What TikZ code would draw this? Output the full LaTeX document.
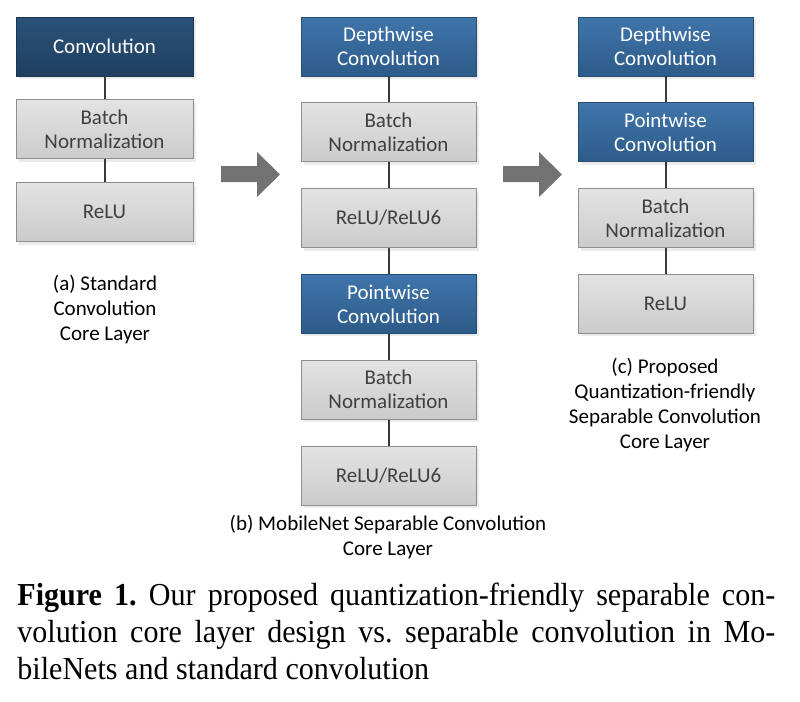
\documentclass[tikz,border=0pt]{standalone}
\usepackage{fontspec}
\setmainfont{Carlito}
\newfontfamily\capfont[FakeStretch=0.94]{Liberation Serif}
\usetikzlibrary{positioning,shadows}
\definecolor{navyA}{HTML}{2B5179}
\definecolor{navyB}{HTML}{1F3F60}
\definecolor{blueA}{HTML}{4075AB}
\definecolor{blueB}{HTML}{2D5B89}
\definecolor{grayA}{HTML}{E3E3E3}
\definecolor{grayB}{HTML}{CBCBCB}
\definecolor{grayline}{HTML}{8E8E8E}
\definecolor{linkcol}{HTML}{3A3A3A}
\definecolor{arrowcol}{HTML}{727272}

\begin{document}
\begin{tikzpicture}[x=0.5pt,y=-0.5pt,
			node distance=13pt,
			corebox/.style={rectangle, minimum width=87.5pt, minimum height=29.5pt, align=center,
				inner sep=1pt, font=\fontsize{10.5}{12}\selectfont,
				drop shadow={shadow xshift=1.5pt, shadow yshift=-1.5pt, fill=black!8, opacity=1}},
			navybox/.style={corebox, draw=navyB!85!black, top color=navyA, bottom color=navyB, text=white},
			bluebox/.style={corebox, draw=blueB!85!black, top color=blueA, bottom color=blueB, text=white},
			graybox/.style={corebox, draw=grayline, top color=grayA, bottom color=grayB, text=black!75},
			link/.style={draw=linkcol, line width=1pt},
			caplabel/.style={align=center, inner sep=0pt, font=\fontsize{10.5}{12.5}\selectfont},
			bigarrow/.style={fill=arrowcol}]
	\useasboundingbox (0,0) rectangle (800,702);

	% (a) standard convolution
	\node[navybox, minimum width=88.5pt] (convA) at (104.5,46.5) {Convolution};
	\node[graybox, minimum width=88.5pt, below=11.5pt of convA] (bnA) {Batch\\Normalization};
	\node[graybox, minimum width=88.5pt, below=11.5pt of bnA] (reluA) {ReLU};
	\draw[link] (convA) -- (bnA);
	\draw[link] (bnA) -- (reluA);
	\node[caplabel] (capA) at (105,310) {(a) Standard\\Convolution\\Core Layer};

	% (b) mobilenet separable
	\node[bluebox] (dwB) at (388.5,46.5) {Depthwise\\Convolution};
	\node[graybox, below=of dwB] (bnB) {Batch\\Normalization};
	\node[graybox, below=of bnB] (reluB) {ReLU/ReLU6};
	\node[bluebox, below=of reluB] (pwB) {Pointwise\\Convolution};
	\node[graybox, below=of pwB] (bnBB) {Batch\\Normalization};
	\node[graybox, below=of bnBB] (reluBB) {ReLU/ReLU6};
	\draw[link] (dwB) -- (bnB);
	\draw[link] (bnB) -- (reluB);
	\draw[link] (reluB) -- (pwB);
	\draw[link] (pwB) -- (bnBB);
	\draw[link] (bnBB) -- (reluBB);
	\node[caplabel] (capB) at (388,537) {(b) MobileNet Separable Convolution\\Core Layer};

	% (c) proposed
	\node[bluebox] (dwC) at (665.5,46.5) {Depthwise\\Convolution};
	\node[bluebox, below=of dwC] (pwC) {Pointwise\\Convolution};
	\node[graybox, below=of pwC] (bnC) {Batch\\Normalization};
	\node[graybox, below=of bnC] (reluC) {ReLU};
	\draw[link] (dwC) -- (pwC);
	\draw[link] (pwC) -- (bnC);
	\draw[link] (bnC) -- (reluC);
	\node[caplabel] (capC) at (665,405.5) {(c) Proposed\\Quantization-friendly\\Separable Convolution\\Core Layer};

	% big arrows
	\fill[bigarrow] (221,166) -- (257,166) -- (257,152) -- (280,174.5) -- (257,197) -- (257,182) -- (221,182) -- cycle;
	\fill[bigarrow] (503,166) -- (539,166) -- (539,152) -- (562,174.5) -- (539,197) -- (539,182) -- (503,182) -- cycle;

	% caption
	\node[anchor=north west, inner sep=0pt, text width=379pt, align=justify,
		font=\capfont\fontsize{16}{18.5}\selectfont] (figcap) at (17,583)
		{\frenchspacing\hyphenpenalty=10000 \tolerance=9999
		\textbf{Figure 1.} Our proposed quantization-friendly separable con-\linebreak
		volution core layer design vs. separable convolution in Mo-\linebreak
		bileNets and standard convolution};
\end{tikzpicture}
\end{document}
